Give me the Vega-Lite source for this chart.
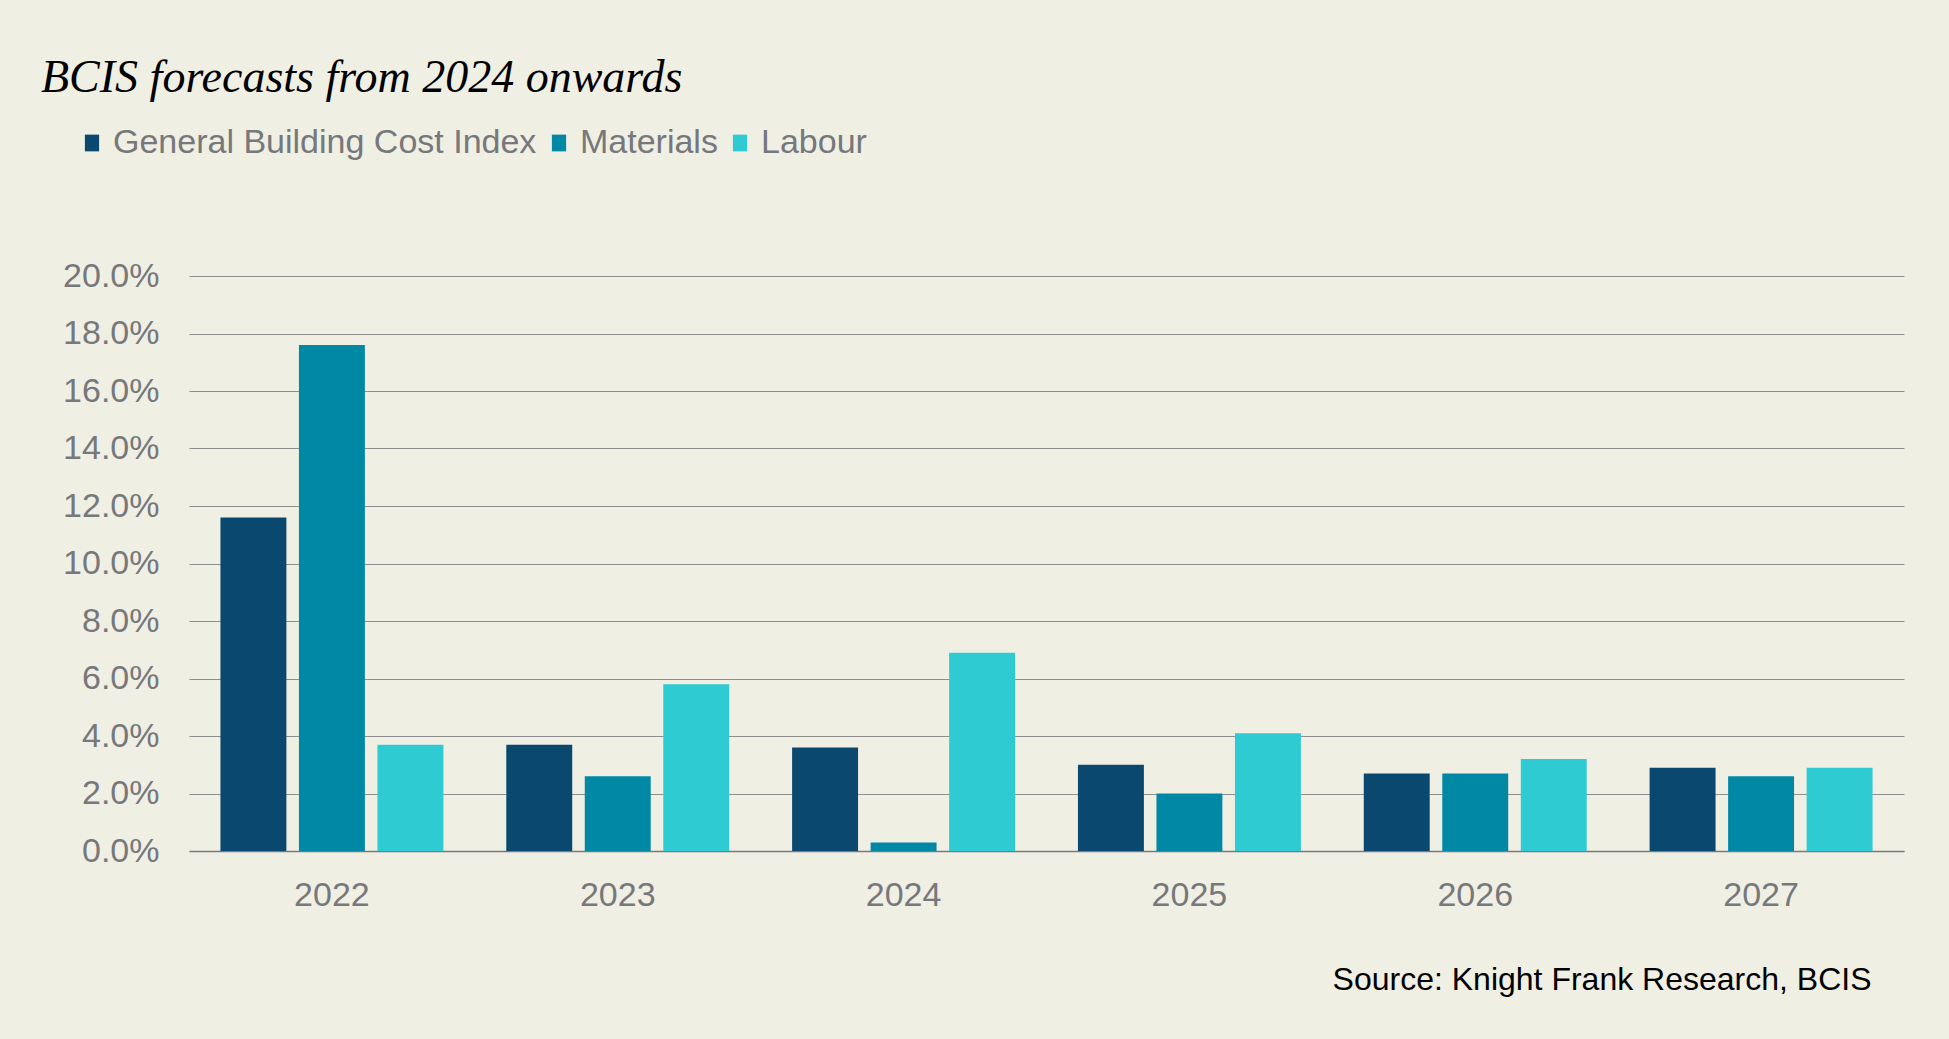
{
  "$schema": "https://vega.github.io/schema/vega-lite/v6.json",
  "width": 1715,
  "height": 575,
  "autosize": {"type": "none"},
  "padding": {"left": 189, "top": 276, "right": 45, "bottom": 188},
  "background": "#F0EFE4",
  "title": {
    "text": "BCIS forecasts from 2024 onwards",
    "anchor": "start",
    "frame": "group",
    "dx": -148,
    "offset": -12,
    "baseline": "alphabetic",
    "font": "Liberation Serif",
    "fontStyle": "italic",
    "fontWeight": "normal",
    "fontSize": 46,
    "color": "#000000"
  },
  "data": {
    "values": [
      {"year": "2022", "series": "General Building Cost Index", "value": 0.116},
      {"year": "2022", "series": "Materials", "value": 0.176},
      {"year": "2022", "series": "Labour", "value": 0.037},
      {"year": "2023", "series": "General Building Cost Index", "value": 0.037},
      {"year": "2023", "series": "Materials", "value": 0.026},
      {"year": "2023", "series": "Labour", "value": 0.058},
      {"year": "2024", "series": "General Building Cost Index", "value": 0.036},
      {"year": "2024", "series": "Materials", "value": 0.003},
      {"year": "2024", "series": "Labour", "value": 0.069},
      {"year": "2025", "series": "General Building Cost Index", "value": 0.030},
      {"year": "2025", "series": "Materials", "value": 0.020},
      {"year": "2025", "series": "Labour", "value": 0.041},
      {"year": "2026", "series": "General Building Cost Index", "value": 0.027},
      {"year": "2026", "series": "Materials", "value": 0.027},
      {"year": "2026", "series": "Labour", "value": 0.032},
      {"year": "2027", "series": "General Building Cost Index", "value": 0.029},
      {"year": "2027", "series": "Materials", "value": 0.026},
      {"year": "2027", "series": "Labour", "value": 0.029}
    ]
  },
  "mark": {"type": "bar"},
  "encoding": {
    "x": {
      "field": "year",
      "type": "nominal",
      "scale": {"paddingInner": 0.22, "paddingOuter": 0.11},
      "axis": {
        "title": "Source: Knight Frank Research, BCIS",
        "titleX": 1682,
        "titleY": 128,
        "titleAlign": "right",
        "titleBaseline": "middle",
        "titleFont": "Liberation Sans",
        "titleFontSize": 32,
        "titleFontWeight": "normal",
        "titleColor": "#000000",
        "labelAngle": 0,
        "labelFont": "Liberation Sans",
        "labelFontSize": 34,
        "labelColor": "#76787B",
        "labelPadding": 27,
        "ticks": false,
        "domainColor": "#7a7a7a",
        "domainWidth": 1.5,
        "grid": false
      }
    },
    "xOffset": {
      "field": "series",
      "type": "nominal",
      "sort": ["General Building Cost Index", "Materials", "Labour"],
      "scale": {"paddingInner": 0.16, "paddingOuter": 0}
    },
    "y": {
      "field": "value",
      "type": "quantitative",
      "scale": {"domain": [0, 0.2]},
      "axis": {
        "title": null,
        "format": ".1%",
        "values": [0, 0.02, 0.04, 0.06, 0.08, 0.1, 0.12, 0.14, 0.16, 0.18, 0.2],
        "labelFont": "Liberation Sans",
        "labelFontSize": 34,
        "labelColor": "#76787B",
        "labelPadding": 30,
        "ticks": false,
        "domain": false,
        "grid": true,
        "gridColor": "#8f8f8f",
        "gridWidth": 1
      }
    },
    "color": {
      "field": "series",
      "type": "nominal",
      "sort": ["General Building Cost Index", "Materials", "Labour"],
      "scale": {
        "domain": ["General Building Cost Index", "Materials", "Labour"],
        "range": ["#0B4870", "#0088A5", "#2ECBD3"]
      },
      "legend": {
        "title": null,
        "orient": "none",
        "legendX": -114,
        "legendY": -150,
        "direction": "horizontal",
        "columns": 3,
        "symbolType": "M-0.85,-1L0.85,-1L0.85,1L-0.85,1Z",
        "symbolSize": 280,
        "symbolStrokeWidth": 0,
        "labelFont": "Liberation Sans",
        "labelFontSize": 34,
        "labelLimit": 0,
        "labelColor": "#76787B",
        "labelOffset": 4,
        "columnPadding": 5,
        "symbolOffset": 0
      }
    }
  },
  "config": {"view": {"stroke": null}}
}
